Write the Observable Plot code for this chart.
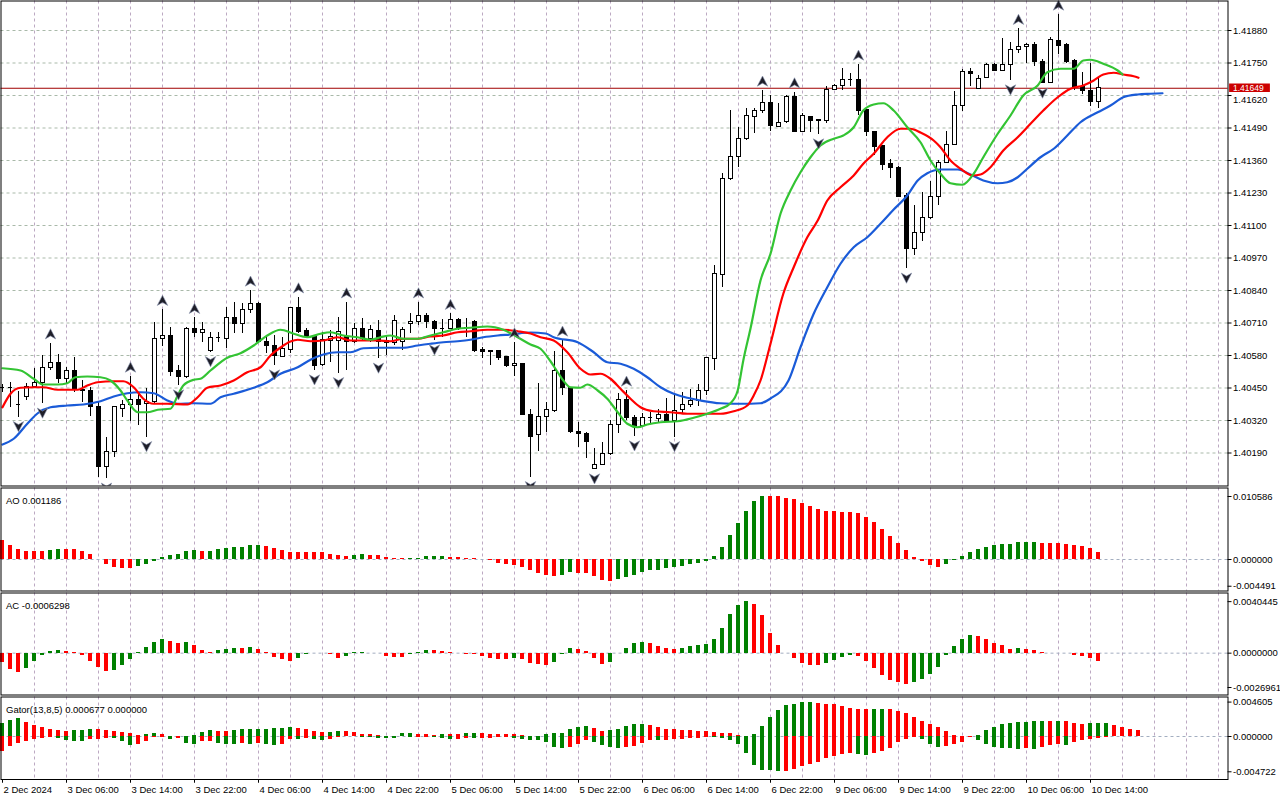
<!DOCTYPE html>
<html><head><meta charset="utf-8">
<script src="https://cdn.jsdelivr.net/npm/d3@7"></script>
<script src="https://cdn.jsdelivr.net/npm/@observablehq/plot@0.6"></script>
<style>
html,body{margin:0;padding:0;background:#fff;}
#chart{position:relative;width:1280px;height:800px;overflow:hidden;background:#fff;}
#chart svg{position:absolute;left:0;}
</style></head><body><div id="chart"></div>
<script>
// ---------- DATA (H1 candles, 2 Dec 22:00 .. 10 Dec 15:00) ----------
const open = [
1.40450,1.40451,1.40385,1.40413,1.40456,1.40469,1.40531,1.40552,1.40485,1.40520,
1.40444,1.40440,1.40373,1.40133,1.40193,1.40367,1.40383,1.40403,1.40387,1.40393,
1.40647,1.40659,1.40520,1.40496,1.40687,1.40669,1.40597,1.40649,1.40647,1.40731,
1.40707,1.40763,1.40787,1.40633,1.40620,1.40576,1.40603,1.40771,1.40680,1.40653,
1.40543,1.40640,1.40640,1.40653,1.40633,1.40687,1.40647,1.40680,1.40640,1.40629,
1.40633,1.40707,1.40713,1.40740,1.40713,1.40687,1.40687,1.40723,1.40691,1.40713,
1.40604,1.40600,1.40600,1.40576,1.40537,1.40547,1.40344,1.40264,1.40335,1.40360,
1.40520,1.40451,1.40273,1.40267,1.40127,1.40144,1.40187,1.40304,1.40403,1.40331,
1.40297,1.40331,1.40327,1.40343,1.40320,1.40363,1.40384,1.40397,1.40440,1.40567,
1.40904,1.41287,1.41373,1.41447,1.41533,1.41557,1.41589,1.41496,1.41513,1.41616,
1.41473,1.41533,1.41523,1.41520,1.41643,1.41660,1.41683,1.41683,1.41563,1.41476,
1.41420,1.41347,1.41331,1.41220,1.41006,1.41070,1.41131,1.41216,1.41352,1.41424,
1.41579,1.41716,1.41647,1.41691,1.41743,1.41720,1.41743,1.41803,1.41816,1.41824,
1.41756,1.41669,1.41840,1.41824,1.41760,1.41656,1.41640,1.41593];
const high = [
1.40464,1.40473,1.40437,1.40467,1.40527,1.40580,1.40629,1.40583,1.40533,1.40571,
1.40480,1.40453,1.40393,1.40253,1.40373,1.40400,1.40496,1.40427,1.40447,1.40713,
1.40763,1.40693,1.40540,1.40693,1.40731,1.40713,1.40673,1.40673,1.40771,1.40791,
1.40787,1.40840,1.40793,1.40660,1.40660,1.40653,1.40773,1.40813,1.40687,1.40660,
1.40673,1.40680,1.40733,1.40793,1.40707,1.40727,1.40700,1.40720,1.40660,1.40740,
1.40693,1.40747,1.40793,1.40747,1.40720,1.40723,1.40747,1.40727,1.40727,1.40720,
1.40613,1.40600,1.40600,1.40576,1.40633,1.40549,1.40363,1.40467,1.40393,1.40597,
1.40640,1.40452,1.40313,1.40273,1.40207,1.40233,1.40320,1.40427,1.40440,1.40340,
1.40349,1.40353,1.40363,1.40407,1.40429,1.40433,1.40443,1.40464,1.40571,1.40940,
1.41307,1.41560,1.41493,1.41567,1.41567,1.41640,1.41620,1.41587,1.41620,1.41633,
1.41547,1.41536,1.41524,1.41656,1.41664,1.41727,1.41707,1.41744,1.41563,1.41476,
1.41420,1.41363,1.41336,1.41227,1.41180,1.41232,1.41276,1.41360,1.41477,1.41637,
1.41724,1.41727,1.41700,1.41747,1.41747,1.41847,1.41833,1.41887,1.41829,1.41833,
1.41763,1.41851,1.41944,1.41827,1.41763,1.41713,1.41749,1.41687];
const low = [
1.40432,1.40373,1.40333,1.40400,1.40447,1.40387,1.40520,1.40469,1.40469,1.40433,
1.40393,1.40337,1.40093,1.40087,1.40173,1.40333,1.40317,1.40300,1.40253,1.40387,
1.40616,1.40496,1.40460,1.40488,1.40653,1.40633,1.40593,1.40633,1.40607,1.40667,
1.40667,1.40747,1.40627,1.40587,1.40540,1.40572,1.40589,1.40667,1.40647,1.40520,
1.40536,1.40553,1.40509,1.40520,1.40627,1.40640,1.40633,1.40567,1.40580,1.40620,
1.40600,1.40667,1.40700,1.40687,1.40640,1.40653,1.40683,1.40680,1.40653,1.40593,
1.40567,1.40540,1.40560,1.40533,1.40496,1.40340,1.40093,1.40198,1.40273,1.40352,
1.40420,1.40268,1.40213,1.40167,1.40124,1.40140,1.40180,1.40267,1.40320,1.40256,
1.40292,1.40307,1.40313,1.40313,1.40253,1.40347,1.40373,1.40376,1.40420,1.40520,
1.40853,1.41280,1.41331,1.41440,1.41467,1.41547,1.41477,1.41493,1.41507,1.41473,
1.41473,1.41473,1.41464,1.41509,1.41640,1.41640,1.41656,1.41540,1.41456,1.41380,
1.41320,1.41287,1.41213,1.40927,1.40980,1.41036,1.41124,1.41180,1.41348,1.41420,
1.41557,1.41656,1.41645,1.41691,1.41717,1.41720,1.41680,1.41789,1.41747,1.41737,
1.41667,1.41672,1.41784,1.41747,1.41640,1.41624,1.41576,1.41567];
const close = [
1.40452,1.40452,1.40383,1.40453,1.40469,1.40531,1.40552,1.40485,1.40520,1.40447,
1.40440,1.40376,1.40136,1.40193,1.40373,1.40383,1.40403,1.40383,1.40396,1.40647,
1.40659,1.40513,1.40496,1.40687,1.40669,1.40683,1.40649,1.40651,1.40731,1.40707,
1.40763,1.40787,1.40633,1.40620,1.40580,1.40608,1.40771,1.40676,1.40656,1.40540,
1.40643,1.40653,1.40673,1.40633,1.40687,1.40647,1.40683,1.40633,1.40632,1.40717,
1.40683,1.40716,1.40740,1.40713,1.40687,1.40688,1.40723,1.40691,1.40693,1.40600,
1.40596,1.40596,1.40571,1.40537,1.40547,1.40344,1.40253,1.40334,1.40361,1.40520,
1.40451,1.40273,1.40267,1.40233,1.40144,1.40187,1.40304,1.40403,1.40331,1.40297,
1.40331,1.40332,1.40343,1.40320,1.40357,1.40383,1.40397,1.40440,1.40571,1.40907,
1.41287,1.41373,1.41447,1.41540,1.41560,1.41589,1.41497,1.41512,1.41616,1.41473,
1.41540,1.41520,1.41517,1.41643,1.41660,1.41683,1.41684,1.41560,1.41473,1.41416,
1.41344,1.41331,1.41216,1.41006,1.41070,1.41131,1.41216,1.41352,1.41424,1.41579,
1.41715,1.41707,1.41685,1.41743,1.41720,1.41743,1.41803,1.41813,1.41824,1.41753,
1.41669,1.41843,1.41820,1.41756,1.41656,1.41637,1.41593,1.41649];
const lastPrice = 1.41649;

// Alligator lines as [bar index, price] (already shifted as drawn)
const jaw = [[0,1.40224],[1.4,1.40247],[3.1,1.40307],[4.4,1.40349],[6,1.40373],[8.1,1.40380],[10.1,1.40384],[12.25,1.40397],[13.9,1.40416],[15.6,1.40429],[17.25,1.40433],[18.9,1.40429],[20.6,1.40400],[21.9,1.40387],[23.9,1.40389],[26,1.40387],[27.25,1.40413],[28.9,1.40427],[31.4,1.40451],[33.1,1.40473],[34.75,1.40507],[36.9,1.40533],[38.5,1.40563],[40.1,1.40584],[41.9,1.40593],[43.5,1.40593],[45.1,1.40609],[46.9,1.40611],[48.5,1.40611],[50.1,1.40611],[51.9,1.40620],[53.5,1.40627],[55.1,1.40633],[56.9,1.40637],[58.5,1.40643],[60.1,1.40653],[61.9,1.40660],[63.5,1.40664],[66,1.40672],[67.9,1.40668],[68.9,1.40653],[71.9,1.40633],[73.9,1.40593],[75.6,1.40553],[77.25,1.40547],[78.9,1.40527],[80.6,1.40493],[82.25,1.40453],[83.9,1.40427],[85.6,1.40411],[87.25,1.40400],[89.75,1.40389],[92.25,1.40387],[94.75,1.40389],[96,1.40408],[98.25,1.40480],[99.75,1.40613],[101.4,1.40747],[103.1,1.40853],[104.75,1.40947],[106.4,1.41013],[108.1,1.41053],[109.75,1.41107],[111.4,1.41164],[113.1,1.41220],[114.4,1.41280],[115.6,1.41309],[117.25,1.41324],[119.4,1.41324],[121,1.41304],[122.6,1.41280],[124.4,1.41269],[125.6,1.41273],[126.9,1.41293],[128.1,1.41327],[129.75,1.41373],[131.4,1.41407],[133.1,1.41460],[134.75,1.41513],[136.9,1.41553],[138.5,1.41580],[140.1,1.41613],[141.9,1.41624],[143.5,1.41627],[145,1.41629]];
const teeth = [[0,1.40373],[1,1.40427],[2.25,1.40451],[3.9,1.40453],[5.1,1.40453],[6.9,1.40443],[9.4,1.40443],[10.6,1.40460],[11.9,1.40473],[13.9,1.40477],[15.1,1.40477],[16.4,1.40453],[17.6,1.40407],[18.9,1.40387],[20.6,1.40387],[23.1,1.40384],[24.4,1.40413],[25.6,1.40451],[27.25,1.40460],[28.9,1.40480],[30.6,1.40513],[32.25,1.40533],[33.5,1.40580],[34.75,1.40612],[36,1.40636],[36.9,1.40643],[38.5,1.40637],[40.1,1.40640],[41.9,1.40653],[43.5,1.40640],[45.1,1.40640],[46.9,1.40640],[48.5,1.40637],[50.1,1.40647],[51.9,1.40647],[53.5,1.40656],[55.1,1.40660],[56.9,1.40673],[58.5,1.40677],[60.6,1.40683],[62.6,1.40683],[64.4,1.40677],[66,1.40668],[67.25,1.40653],[68.9,1.40640],[70.6,1.40593],[72.25,1.40527],[73.5,1.40504],[74.75,1.40507],[76,1.40487],[77.25,1.40447],[78.5,1.40407],[79.75,1.40373],[81.4,1.40357],[83.5,1.40353],[85.6,1.40347],[88.1,1.40347],[89.75,1.40347],[91.4,1.40357],[93.1,1.40380],[93.9,1.40420],[94.75,1.40480],[96,1.40627],[97.6,1.40827],[98.9,1.40933],[100.6,1.41053],[101.9,1.41120],[103.1,1.41200],[104.75,1.41253],[106.4,1.41300],[107.6,1.41347],[108.9,1.41387],[110.6,1.41453],[112.25,1.41487],[113.5,1.41487],[114.75,1.41472],[116.4,1.41440],[117.25,1.41413],[118.5,1.41360],[119.75,1.41327],[121.25,1.41300],[122.25,1.41304],[123.5,1.41333],[125.1,1.41400],[126.9,1.41453],[128.5,1.41507],[130.1,1.41560],[131.9,1.41613],[133.5,1.41647],[135.1,1.41660],[136.4,1.41680],[137.6,1.41704],[138.9,1.41711],[140.1,1.41704],[141.4,1.41697],[142,1.41691]];
const lips = [[0,1.40529],[2.25,1.40520],[3.9,1.40487],[5.1,1.40464],[6.9,1.40464],[8.1,1.40469],[9.1,1.40493],[10.6,1.40496],[12.25,1.40493],[13.5,1.40480],[14.75,1.40440],[15.6,1.40400],[16.9,1.40353],[18.1,1.40353],[19.4,1.40363],[21,1.40367],[21.9,1.40420],[22.6,1.40460],[23.9,1.40483],[24.75,1.40487],[26,1.40520],[28.1,1.40571],[29.75,1.40589],[31.4,1.40620],[33.1,1.40660],[34.75,1.40683],[36.4,1.40667],[38.1,1.40653],[39.75,1.40667],[41,1.40673],[42.6,1.40660],[44.4,1.40653],[46,1.40643],[47.25,1.40653],[48.5,1.40660],[50.1,1.40647],[51.9,1.40647],[53.5,1.40660],[55.1,1.40673],[56.9,1.40687],[58.5,1.40691],[60.6,1.40696],[62.6,1.40683],[64.4,1.40653],[66,1.40624],[67.25,1.40607],[68.5,1.40557],[69.4,1.40513],[70.1,1.40480],[71,1.40453],[72.25,1.40451],[73.1,1.40464],[74.4,1.40440],[75.6,1.40407],[76.9,1.40353],[78.1,1.40307],[79.4,1.40293],[80.6,1.40304],[82.25,1.40313],[84.4,1.40317],[86.4,1.40331],[88.1,1.40347],[89.75,1.40367],[91,1.40389],[91.9,1.40440],[92.6,1.40560],[93.5,1.40688],[94.75,1.40880],[96,1.40987],[97.25,1.41147],[98.5,1.41240],[99.75,1.41313],[101,1.41373],[102.25,1.41420],[103.9,1.41447],[105.1,1.41460],[106.4,1.41493],[107.6,1.41560],[108.9,1.41584],[110.1,1.41589],[111.4,1.41560],[113.1,1.41493],[114.75,1.41433],[116,1.41360],[117.25,1.41307],[118.5,1.41269],[120,1.41263],[121.4,1.41307],[122.6,1.41373],[124.4,1.41467],[126,1.41540],[127.6,1.41620],[129.4,1.41660],[130.6,1.41713],[132.25,1.41727],[133.9,1.41727],[135.1,1.41760],[136,1.41763],[137.6,1.41747],[139.4,1.41720],[140,1.41704]];

const fractalsUp = [6,16,20,24,31,37,43,52,56,64,70,78,95,99,107,127,132];
const fractalsDown = [2,5,13,18,22,26,34,39,42,47,54,66,74,79,84,102,113,126,130];

const ao = [
0.00319,0.00235,0.00168,0.00134,0.00133,0.00129,0.00151,0.00168,0.00167,0.00165,
0.00134,0.00084,-0.00003,-0.00084,-0.00129,-0.00146,-0.00150,-0.00112,-0.00078,-0.00028,
0.00034,0.00067,0.00084,0.00134,0.00151,0.00132,0.00136,0.00168,0.00190,0.00207,
0.00210,0.00235,0.00238,0.00218,0.00185,0.00151,0.00118,0.00116,0.00114,0.00112,
0.00110,0.00084,0.00067,0.00050,0.00067,0.00084,0.00067,0.00066,0.00034,0.00018,
0.00015,0.00017,0.00022,0.00048,0.00050,0.00052,0.00034,0.00033,0.00017,0.00016,
0.00002,-0.00022,-0.00062,-0.00084,-0.00101,-0.00129,-0.00179,-0.00230,-0.00263,-0.00280,
-0.00263,-0.00213,-0.00235,-0.00237,-0.00280,-0.00347,-0.00364,-0.00330,-0.00297,-0.00263,
-0.00213,-0.00185,-0.00183,-0.00157,-0.00140,-0.00112,-0.00090,-0.00062,-0.00028,0.00050,
0.00202,0.00403,0.00605,0.00806,0.00974,0.010586,0.01055,0.01052,0.01025,0.01008,
0.00941,0.00890,0.00840,0.00806,0.00804,0.00795,0.00790,0.00773,0.00706,0.00622,
0.00510,0.00386,0.00269,0.00151,0.00034,-0.00028,-0.00101,-0.00129,-0.00078,-0.00011,
0.00050,0.00118,0.00168,0.00202,0.00241,0.00248,0.00250,0.00286,0.00288,0.00290,
0.00269,0.00267,0.00265,0.00252,0.00235,0.00218,0.00185,0.001186];
const ac = [
-0.00071,-0.00131,-0.00149,-0.00118,-0.00063,-0.00021,0.00013,0.00021,0.00013,0.00002,
-0.00021,-0.00063,-0.00110,-0.00141,-0.00134,-0.00094,-0.00047,0.00005,0.00045,0.00084,
0.00107,0.00092,0.00076,0.00084,0.00060,0.00021,0.00008,0.00021,0.00029,0.00037,
0.00036,0.00045,0.00029,0.00005,-0.00031,-0.00047,-0.00063,-0.00039,-0.00013,-0.00003,
0.00000,-0.00013,-0.00039,-0.00029,0.00003,0.00004,0.00001,-0.00005,-0.00024,-0.00031,
-0.00032,-0.00013,0.00005,0.00021,0.00020,0.00010,0.00005,-0.00002,-0.00010,-0.00013,
-0.00024,-0.00045,-0.00050,-0.00051,-0.00039,-0.00047,-0.00079,-0.00086,-0.00094,-0.00071,
-0.00013,0.00037,0.00029,0.00013,-0.00042,-0.00086,-0.00071,-0.00005,0.00037,0.00076,
0.00081,0.00073,0.00052,0.00037,0.00029,0.00037,0.00052,0.00060,0.00068,0.00107,
0.00194,0.00304,0.00375,0.0040445,0.00383,0.00296,0.00155,0.00060,-0.00005,-0.00039,
-0.00079,-0.00094,-0.00095,-0.00084,-0.00055,-0.00031,-0.00016,-0.00024,-0.00063,-0.00118,
-0.00173,-0.00212,-0.00228,-0.00244,-0.00233,-0.00204,-0.00165,-0.00110,-0.00021,0.00052,
0.00107,0.00139,0.00131,0.00107,0.00076,0.00060,0.00029,0.00037,0.00028,0.00021,
0.00002,-0.00002,-0.00003,-0.00004,-0.00018,-0.00029,-0.00039,-0.0006298];
const gatorUp = [
0.00180,0.00216,0.00235,0.00190,0.00149,0.00122,0.00095,0.00086,0.00072,0.00074,
0.00086,0.00099,0.00097,0.00086,0.00072,0.00054,0.00036,0.00009,0.00027,0.00041,
0.00027,0.00005,0.00004,0.00002,0.00014,0.00054,0.00081,0.00072,0.00070,0.00086,
0.00095,0.00096,0.00097,0.00098,0.00108,0.00109,0.00122,0.00108,0.00095,0.00068,
0.00054,0.00059,0.00068,0.00067,0.00054,0.00027,0.00026,0.00014,0.00005,0.00002,
0.00041,0.00042,0.00032,0.00027,0.00014,0.00027,0.00026,0.00025,0.00041,0.00042,
0.00041,0.00027,0.00026,0.00025,0.00024,0.00014,0.00000,0.00000,0.00027,0.00041,
0.00045,0.00095,0.00122,0.00135,0.00108,0.00068,0.00081,0.00095,0.00135,0.00162,
0.00163,0.00149,0.00122,0.00095,0.00094,0.00081,0.00080,0.00068,0.00067,0.00054,
0.00041,0.00040,0.00014,0.00001,0.00027,0.00135,0.00257,0.00352,0.00419,0.00433,
0.00460,0.004605,0.00446,0.00433,0.00432,0.00406,0.00379,0.00365,0.00364,0.00366,
0.00367,0.00363,0.00338,0.00311,0.00257,0.00203,0.00162,0.00122,0.00068,0.00014,
0.00001,0.00004,0.00014,0.00081,0.00122,0.00162,0.00176,0.00189,0.00190,0.00203,
0.00204,0.00203,0.00204,0.00203,0.00176,0.00162,0.00172,0.00176,0.00177,0.00149,
0.00122,0.00095,0.00081];
const gatorDown = [
0.00194,0.00135,0.00090,0.00068,0.00045,0.00027,0.00018,0.00027,0.00054,0.00068,
0.00070,0.00036,0.00034,0.00027,0.00032,0.00063,0.00117,0.00104,0.00063,0.00018,
0.00009,0.00036,0.00027,0.00090,0.00104,0.00063,0.00062,0.00090,0.00104,0.00105,
0.00090,0.00104,0.00090,0.00104,0.00117,0.00104,0.00041,0.00042,0.00027,0.00036,
0.00050,0.00036,0.00014,0.00005,0.00004,0.00010,0.00018,0.00027,0.00028,0.00029,
0.00005,0.00009,0.00008,0.00007,0.00014,0.00027,0.00036,0.00035,0.00027,0.00028,
0.00023,0.00022,0.00018,0.00014,0.00027,0.00041,0.00050,0.00051,0.00077,0.00144,
0.00154,0.00141,0.00101,0.00049,0.00075,0.00115,0.00141,0.00154,0.00153,0.00128,
0.00088,0.00049,0.00050,0.00048,0.00035,0.00034,0.00022,0.00021,0.00009,0.00013,
0.00022,0.00049,0.00101,0.00234,0.00392,0.00459,0.00460,0.004722,0.00471,0.00445,
0.00406,0.00379,0.00353,0.00300,0.00273,0.00247,0.00234,0.00247,0.00248,0.00234,
0.00194,0.00154,0.00075,0.00035,0.00009,0.00035,0.00101,0.00141,0.00128,0.00101,
0.00075,0.00018,0.00049,0.00101,0.00141,0.00154,0.00155,0.00168,0.00154,0.00168,
0.00141,0.00115,0.00101,0.00115,0.00075,0.00049,0.00035,0.00022,0.00013,0.00005,
0.00002];

const priceTicks = [1.40190,1.40320,1.40450,1.40580,1.40710,1.40840,1.40970,1.41100,1.41230,1.41360,1.41490,1.41620,1.41750,1.41880];
const aoTicks = [0.010586, 0, -0.004491];
const aoTickLabels = ["0.010586","0.000000","-0.004491"];
const acTicks = [0.0040445, 0, -0.0026961];
const acTickLabels = ["0.0040445","0.0000000","-0.0026961"];
const gatorTicks = [0.004605, 0, -0.004722];
const gatorTickLabels = ["0.004605","0.000000","-0.004722"];
const timeIdx = [0,8,16,24,32,40,48,56,64,72,80,88,96,104,112,120,128,136];
const timeLabels = ["2 Dec 2024","3 Dec 06:00","3 Dec 14:00","3 Dec 22:00","4 Dec 06:00","4 Dec 14:00","4 Dec 22:00","5 Dec 06:00","5 Dec 14:00","5 Dec 22:00","6 Dec 06:00","6 Dec 14:00","6 Dec 22:00","9 Dec 06:00","9 Dec 14:00","9 Dec 22:00","10 Dec 06:00","10 Dec 14:00"];
const aoTitle = "AO 0.001186";
const acTitle = "AC -0.0006298";
const gatorTitle = "Gator(13,8,5) 0.000677 0.000000";

// ---------- RENDER ----------
const G = "#008000", R = "#ff0000";
const VGRID = "#bca9c2", HGRID = "#a9b9a9", ZGRID = "#a3aec0";
const FONT = "'Liberation Sans', Arial, sans-serif";
const FS = 9.5;
const xDomain = [-0.1875, 153.1875];
const xr = xDomain[1];
const gridIdx = d3.range(4, 153, 4);
const base = {width: 1280, marginLeft: 0.5, marginRight: 52.5,
  x: {domain: xDomain, axis: null},
  style: {fontFamily: FONT, fontSize: FS + "px", background: "transparent", overflow: "visible", maxWidth: "none"}};

const cand = open.map((o, i) => ({i, o, h: high[i], l: low[i], c: close[i]}));
const bodies = cand.filter(d => Math.abs(d.c - d.o) >= 0.00003);
const dojis = cand.filter(d => Math.abs(d.c - d.o) < 0.00003);
const upF = fractalsUp.map(i => cand[i]);
const dnF = fractalsDown.map(i => cand[i]);

function arrow(dir) {
  return {draw(ctx, size) {
    const r = Math.sqrt(size / Math.PI);
    ctx.moveTo(0, -dir * r);
    ctx.lineTo(0.95 * r, dir * 0.85 * r);
    ctx.lineTo(0, dir * 0.3 * r);
    ctx.lineTo(-0.95 * r, dir * 0.85 * r);
    ctx.closePath();
  }};
}

function hist(values, firstColor, mag) {
  return values.map((v, i) => {
    const col = i === 0 ? firstColor : (v > values[i - 1] ? G : R);
    return {i, v: mag ? -v : v, col};
  });
}

function sideAxis(ticks, labels) {
  return [
    Plot.ruleY(ticks, {y: d => d, x1: xr, x2: xr + 0.5, stroke: "#000"}),
    Plot.text(ticks, {x: xr, y: d => d, text: (d, i) => labels[i], textAnchor: "start", dx: 5, fill: "#000", fontSize: FS})
  ];
}

// price-axis labels: the one hidden behind the current-price box is nudged below it
const nearLast = d => Math.abs(d - lastPrice) < 0.0004;
const mainTicksFree = priceTicks.filter(d => !nearLast(d));
const mainTicksNear = priceTicks.filter(nearLast);

const mainPlot = Plot.plot({...base, height: 486, marginTop: 0.5, marginBottom: 0.5,
  y: {domain: [1.40058, 1.41998], axis: null},
  marks: [
    Plot.ruleY(priceTicks, {stroke: HGRID, strokeDasharray: "3,3"}),
    Plot.ruleX(gridIdx, {stroke: VGRID, strokeDasharray: "3,3"}),
    Plot.ruleY([lastPrice], {stroke: "#a00000"}),
    Plot.ruleX(cand, {x: "i", y1: "l", y2: "h", stroke: "#000", shapeRendering: "crispEdges"}),
    Plot.rect(bodies, {x1: d => d.i - 0.25, x2: d => d.i + 0.25, y1: "o", y2: "c",
      fill: d => d.c > d.o ? "#fff" : "#000", stroke: "#000", shapeRendering: "crispEdges"}),
    Plot.ruleY(dojis, {y: "c", x1: d => d.i - 0.3, x2: d => d.i + 0.3, stroke: "#000", shapeRendering: "crispEdges"}),
    Plot.line(jaw, {x: d => d[0], y: d => d[1], stroke: "#1a5bd8", strokeWidth: 2.2, curve: "monotone-x"}),
    Plot.line(teeth, {x: d => d[0], y: d => d[1], stroke: "#ff0000", strokeWidth: 2.2, curve: "monotone-x"}),
    Plot.line(lips, {x: d => d[0], y: d => d[1], stroke: "#33c433", strokeWidth: 2.2, curve: "monotone-x"}),
    Plot.dot(upF, {x: "i", y: "h", symbol: arrow(1), r: 5.5, fill: "#1e1e28", stroke: "#8a94b0", strokeWidth: 0.6, dy: -9, clip: true}),
    Plot.dot(dnF, {x: "i", y: "l", symbol: arrow(-1), r: 5.5, fill: "#1e1e28", stroke: "#8a94b0", strokeWidth: 0.6, dy: 9, clip: true}),
    Plot.frame({stroke: "#000"}),
    Plot.ruleY(priceTicks, {y: d => d, x1: xr, x2: xr + 0.5, stroke: "#000"}),
    Plot.text(mainTicksFree, {x: xr, y: d => d, text: d => d.toFixed(5), textAnchor: "start", dx: 5, fill: "#000", fontSize: FS}),
    Plot.text(mainTicksNear, {x: xr, y: d => d, text: d => d.toFixed(5), textAnchor: "start", dx: 5, dy: 4, fill: "#000", fontSize: FS}),
    Plot.rect([lastPrice], {x1: xr + 0.2, x2: xr + 5.3, y1: d => d - 0.00017, y2: d => d + 0.00017, fill: "#cc0000"}),
    Plot.text([lastPrice], {x: xr, y: d => d, text: d => d.toFixed(5), textAnchor: "start", dx: 5, fill: "#fff", fontSize: 8.5})
  ]});

function subPlot(values, domain, ticks, labels, title, h, mb, extra) {
  return Plot.plot({...base, height: h, marginTop: 0.5, marginBottom: mb,
    y: {domain, axis: null},
    marks: [
      Plot.ruleX(gridIdx, {stroke: VGRID, strokeDasharray: "3,3"}),
      Plot.ruleY([0], {stroke: ZGRID, strokeDasharray: "3,3"}),
      ...values.map(vals => Plot.rect(vals, {x1: d => d.i - 0.25, x2: d => d.i + 0.25, y1: 0, y2: "v", fill: "col", shapeRendering: "crispEdges"})),
      Plot.frame({stroke: "#000"}),
      ...sideAxis(ticks, labels),
      Plot.text([title], {frameAnchor: "top-left", dx: 5, dy: 9, textAnchor: "start", fill: "#000", fontSize: FS}),
      ...(extra || [])
    ]});
}

const aoPlot = subPlot([hist(ao, R, false)], [-0.005292, 0.012012], aoTicks, aoTickLabels, aoTitle, 104, 0.5);
const acPlot = subPlot([hist(ac, R, false)], [-0.003284, 0.004723], acTicks, acTickLabels, acTitle, 103, 0.5);
const gDomain = [-0.005753, 0.005285];
const gatorPlot = subPlot([hist(gatorUp, G, false), hist(gatorDown, R, true)], gDomain, gatorTicks, gatorTickLabels, gatorTitle, 104, 21, [
  Plot.ruleX(timeIdx, {x: d => d, y1: gDomain[0], y2: gDomain[0] - 0.0005, stroke: "#000"}),
  Plot.text(timeIdx, {x: d => d, y: gDomain[0], text: (d, i) => timeLabels[i], textAnchor: "start", dx: 1, dy: 10, fill: "#000", fontSize: FS})
]);

const host = document.getElementById("chart");
[[mainPlot, 0], [aoPlot, 487], [acPlot, 592], [gatorPlot, 696]].forEach(([svg, top]) => {
  svg.style.top = top + "px";
  host.appendChild(svg);
});
</script></body></html>
